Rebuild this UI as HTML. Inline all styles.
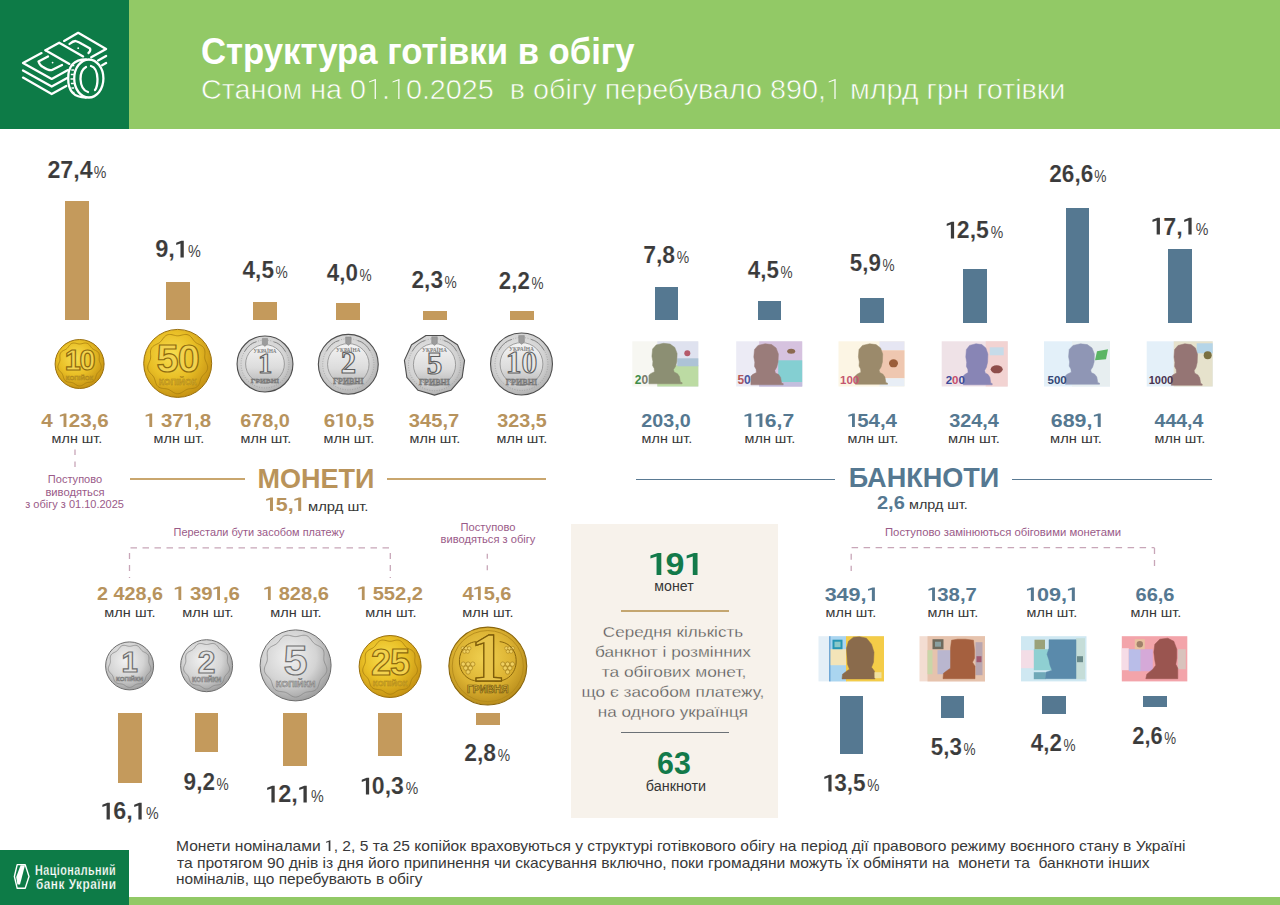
<!DOCTYPE html>
<html lang="uk">
<head>
<meta charset="utf-8">
<title>Структура готівки в обігу</title>
<style>
html,body{margin:0;padding:0;}
body{width:1280px;height:905px;position:relative;overflow:hidden;background:#ffffff;font-family:"Liberation Sans", sans-serif;}
.a{position:absolute;}
</style>
</head>
<body>
<div class="a bg" style="left:0.0px;top:0.0px;width:1280.0px;height:129.0px;background:#92c966"></div>
<div class="a bg" style="left:0.0px;top:0.0px;width:129.0px;height:129.0px;background:#0d7b47"></div>
<div class="a bg" style="left:129.0px;top:896.5px;width:1151.0px;height:8.5px;background:#92c966"></div>
<div class="a bg" style="left:0.0px;top:850.0px;width:129.0px;height:55.0px;background:#0d7b47"></div>
<div class="a bg" style="left:571.2px;top:524.0px;width:207.0px;height:294.0px;background:#f7f2eb"></div>
<div class="a shape" style="left:621.0px;top:610.0px;width:108.0px;height:1.6px;background:#c4a670"></div>
<div class="a shape" style="left:621.0px;top:731.8px;width:108.0px;height:1.6px;background:#6b7176"></div>
<div class="a shape" style="left:65.0px;top:201.0px;width:23.8px;height:119.3px;background:#c49a5c"></div>
<div class="a shape" style="left:166.0px;top:282.0px;width:23.8px;height:38.3px;background:#c49a5c"></div>
<div class="a shape" style="left:253.0px;top:302.0px;width:23.8px;height:18.3px;background:#c49a5c"></div>
<div class="a shape" style="left:336.3px;top:303.4px;width:23.8px;height:16.9px;background:#c49a5c"></div>
<div class="a shape" style="left:423.0px;top:311.3px;width:23.8px;height:9.0px;background:#c49a5c"></div>
<div class="a shape" style="left:510.0px;top:311.3px;width:23.8px;height:9.0px;background:#c49a5c"></div>
<div class="a shape" style="left:654.5px;top:287.0px;width:23.8px;height:33.0px;background:#557891"></div>
<div class="a shape" style="left:757.5px;top:301.3px;width:23.8px;height:18.7px;background:#557891"></div>
<div class="a shape" style="left:860.0px;top:297.5px;width:23.8px;height:25.5px;background:#557891"></div>
<div class="a shape" style="left:963.0px;top:269.2px;width:23.8px;height:53.8px;background:#557891"></div>
<div class="a shape" style="left:1065.5px;top:208.2px;width:23.8px;height:114.8px;background:#557891"></div>
<div class="a shape" style="left:1168.0px;top:249.2px;width:23.8px;height:73.8px;background:#557891"></div>
<div class="a shape" style="left:118.0px;top:712.8px;width:23.8px;height:70.2px;background:#c49a5c"></div>
<div class="a shape" style="left:194.5px;top:712.8px;width:23.8px;height:39.3px;background:#c49a5c"></div>
<div class="a shape" style="left:283.4px;top:712.8px;width:23.8px;height:53.0px;background:#c49a5c"></div>
<div class="a shape" style="left:378.2px;top:712.8px;width:23.8px;height:43.6px;background:#c49a5c"></div>
<div class="a shape" style="left:475.8px;top:712.8px;width:23.8px;height:11.8px;background:#c49a5c"></div>
<div class="a shape" style="left:839.5px;top:695.9px;width:23.8px;height:57.9px;background:#557891"></div>
<div class="a shape" style="left:940.5px;top:695.9px;width:23.8px;height:22.5px;background:#557891"></div>
<div class="a shape" style="left:1041.8px;top:695.9px;width:23.8px;height:18.2px;background:#557891"></div>
<div class="a shape" style="left:1142.8px;top:695.9px;width:23.8px;height:11.0px;background:#557891"></div>
<div class="a shape" style="left:129.5px;top:478.3px;width:115.5px;height:1.7px;background:#c9a66e"></div>
<div class="a shape" style="left:387.0px;top:478.3px;width:159.0px;height:1.7px;background:#c9a66e"></div>
<div class="a shape" style="left:635.5px;top:478.5px;width:199.5px;height:1.7px;background:#5a7a93"></div>
<div class="a shape" style="left:1012.0px;top:478.5px;width:199.5px;height:1.7px;background:#5a7a93"></div>
<svg class="a shape" style="left:0;top:0" width="1280" height="905" viewBox="0 0 1280 905">
<defs>
<radialGradient id="gG" cx="42%" cy="38%" r="62%">
 <stop offset="0" stop-color="#f8de50"/><stop offset="0.55" stop-color="#e9bf26"/><stop offset="1" stop-color="#c79414"/>
</radialGradient>
<radialGradient id="gO" cx="45%" cy="40%" r="62%">
 <stop offset="0" stop-color="#f0d050"/><stop offset="0.6" stop-color="#dcb232"/><stop offset="1" stop-color="#b68a1a"/>
</radialGradient>
<radialGradient id="sG" cx="42%" cy="38%" r="62%">
 <stop offset="0" stop-color="#f2f2f2"/><stop offset="0.6" stop-color="#d4d4d4"/><stop offset="1" stop-color="#a2a2a2"/>
</radialGradient>
<linearGradient id="sIn" x1="0" y1="0" x2="0" y2="1">
 <stop offset="0" stop-color="#f4f4f4"/><stop offset="0.6" stop-color="#dcdcdc"/><stop offset="1" stop-color="#b8b8b8"/>
</linearGradient>
<radialGradient id="sRing" cx="45%" cy="40%" r="60%">
 <stop offset="0" stop-color="#ececec"/><stop offset="0.7" stop-color="#d2d2d2"/><stop offset="1" stop-color="#b2b2b2"/>
</radialGradient>
</defs>
<path d="M64.1 40.9 L78.2 32.8 L106.1 48.9 L91.2 57.3" fill="none" stroke="#ffffff" stroke-width="2.3" stroke-linecap="round" stroke-linejoin="round"/>
<path d="M69.5 44 Q73 41 75.5 41 Q79 42 82 44 L90 48.5 Q91 51 88.5 53" fill="none" stroke="#ffffff" stroke-width="2.3" stroke-linecap="round" stroke-linejoin="round"/>
<circle cx="78.2" cy="48.2" r="0.9" fill="#fff"/>
<path d="M45.5 50.2 L59.2 42.7 L83.1 56.4" fill="none" stroke="#ffffff" stroke-width="2.3" stroke-linecap="round" stroke-linejoin="round"/>
<path d="M45.5 50.2 L69.4 63.9" fill="none" stroke="#ffffff" stroke-width="2.3" stroke-linecap="round" stroke-linejoin="round"/>
<path d="M41.5 53.1 L23 63 L51.7 78.9 L68 70.1" fill="none" stroke="#ffffff" stroke-width="2.3" stroke-linecap="round" stroke-linejoin="round"/>
<path d="M48 56.5 L38.5 61.5 Q40 66 43 67 Q49 71 52 70 L62 65" fill="none" stroke="#ffffff" stroke-width="2.3" stroke-linecap="round" stroke-linejoin="round"/>
<circle cx="52.6" cy="62.6" r="0.9" fill="#fff"/>
<path d="M23 70.5 L51.7 86.5 L67.2 78" fill="none" stroke="#ffffff" stroke-width="2.3" stroke-linecap="round" stroke-linejoin="round"/>
<path d="M23 77.6 L51.7 94 L66.3 86" fill="none" stroke="#ffffff" stroke-width="2.3" stroke-linecap="round" stroke-linejoin="round"/>
<path d="M98.1 60.4 L106.1 55.9" fill="none" stroke="#ffffff" stroke-width="2.3" stroke-linecap="round" stroke-linejoin="round"/>
<path d="M102.1 65.2 L106.1 63" fill="none" stroke="#ffffff" stroke-width="2.3" stroke-linecap="round" stroke-linejoin="round"/>
<ellipse cx="88.8" cy="78.5" rx="14.6" ry="19" fill="none" stroke="#ffffff" stroke-width="2.3" stroke-linecap="round" stroke-linejoin="round"/>
<path d="M86 59.5 Q68 59.5 68.2 78.5 Q68 97.5 86 97.5" fill="none" stroke="#ffffff" stroke-width="2.3" stroke-linecap="round" stroke-linejoin="round"/>
<line x1="71.8" y1="65.5" x2="74.3" y2="65.5" stroke="#fff" stroke-width="1.5"/>
<line x1="71.3" y1="70.0" x2="74.1" y2="70.0" stroke="#fff" stroke-width="1.5"/>
<line x1="70.8" y1="74.5" x2="73.8" y2="74.5" stroke="#fff" stroke-width="1.5"/>
<line x1="70.5" y1="79.0" x2="73.6" y2="79.0" stroke="#fff" stroke-width="1.5"/>
<line x1="70.9" y1="83.5" x2="73.9" y2="83.5" stroke="#fff" stroke-width="1.5"/>
<line x1="71.4" y1="88.0" x2="74.1" y2="88.0" stroke="#fff" stroke-width="1.5"/>
<line x1="71.9" y1="92.5" x2="74.4" y2="92.5" stroke="#fff" stroke-width="1.5"/>
<path d="M86 67 Q80.5 70 80.5 79 Q81 90 88 92 M91 66 Q97 67.5 97.5 79 Q97.5 87 95 90" fill="none" stroke="#ffffff" stroke-width="2.3" stroke-linecap="round" stroke-linejoin="round"/>
<polygon points="17.2,864.6 25.2,864.6 29,876.5 25.2,888.3 17.2,888.3 14.4,876.5" fill="none" stroke="#fff" stroke-width="1.4" stroke-linejoin="round"/><polygon points="20.6,865.3 25,865.3 20,884.5 17.4,884.5 16.2,877" fill="#fff"/>
<line x1="75.0" y1="449.4" x2="75.0" y2="468.0" stroke="#c8a6b8" stroke-width="1.3" stroke-dasharray="5.5 6.5"/>
<line x1="130.5" y1="547.8" x2="391.0" y2="547.8" stroke="#c8a6b8" stroke-width="1.3" stroke-dasharray="6.5 5.5"/>
<line x1="129.5" y1="553.0" x2="129.5" y2="578.0" stroke="#c8a6b8" stroke-width="1.3" stroke-dasharray="6 6"/>
<line x1="390.3" y1="553.0" x2="390.3" y2="578.0" stroke="#c8a6b8" stroke-width="1.3" stroke-dasharray="6 6"/>
<line x1="487.3" y1="553.7" x2="487.3" y2="572.0" stroke="#c8a6b8" stroke-width="1.3" stroke-dasharray="5 6.5"/>
<line x1="851.6" y1="547.7" x2="1154.5" y2="547.7" stroke="#c8a6b8" stroke-width="1.3" stroke-dasharray="6.5 5.5"/>
<line x1="851.2" y1="553.7" x2="851.2" y2="571.0" stroke="#c8a6b8" stroke-width="1.3" stroke-dasharray="6 6"/>
<line x1="1154.5" y1="548.0" x2="1154.5" y2="566.0" stroke="#c8a6b8" stroke-width="1.3" stroke-dasharray="6 6"/>
<circle cx="79.6" cy="364.0" r="24.50" fill="url(#gG)" stroke="#9a700e" stroke-width="1"/>
<polyline points="100.60,364.00 100.93,364.84 101.18,365.70 101.32,366.57 101.32,367.44 101.16,368.29 100.85,369.10 100.41,369.87 99.87,370.58 99.27,371.25 98.65,371.89 98.05,372.51 97.52,373.13 97.06,373.78 96.68,374.46 96.37,375.21 96.11,376.00 95.88,376.83 95.63,377.69 95.33,378.54 94.95,379.35 94.47,380.09 93.89,380.73 93.20,381.25 92.42,381.64 91.58,381.92 90.69,382.10 89.80,382.22 88.93,382.31 88.08,382.40 87.28,382.55 86.52,382.76 85.80,383.07 85.09,383.46 84.38,383.91 83.66,384.41 82.91,384.90 82.13,385.34 81.31,385.69 80.46,385.92 79.60,386.00 78.74,385.92 77.89,385.69 77.07,385.34 76.29,384.90 75.54,384.41 74.82,383.91 74.11,383.46 73.40,383.07 72.68,382.76 71.92,382.55 71.12,382.40 70.27,382.31 69.40,382.22 68.51,382.10 67.62,381.92 66.78,381.64 66.00,381.25 65.31,380.73 64.73,380.09 64.25,379.35 63.87,378.54 63.57,377.69 63.32,376.83 63.09,376.00 62.83,375.21 62.52,374.46 62.14,373.78 61.68,373.13 61.15,372.51 60.55,371.89 59.93,371.25 59.33,370.58 58.79,369.87 58.35,369.10 58.04,368.29 57.88,367.44 57.88,366.57 58.02,365.70 58.27,364.84 58.60,364.00 58.96,363.19 59.31,362.40 59.61,361.63 59.83,360.87 59.97,360.09 60.01,359.30 59.98,358.47 59.92,357.61 59.86,356.72 59.84,355.82 59.91,354.92 60.09,354.06 60.41,353.25 60.87,352.52 61.45,351.87 62.14,351.31 62.90,350.83 63.69,350.41 64.49,350.03 65.25,349.65 65.96,349.25 66.61,348.79 67.19,348.26 67.73,347.67 68.24,347.00 68.75,346.29 69.28,345.58 69.86,344.88 70.50,344.26 71.21,343.74 71.99,343.36 72.82,343.12 73.69,343.03 74.58,343.07 75.47,343.21 76.34,343.41 77.19,343.63 78.01,343.82 78.81,343.95 79.60,344.00 80.39,343.95 81.19,343.82 82.01,343.63 82.86,343.41 83.73,343.21 84.62,343.07 85.51,343.03 86.38,343.12 87.21,343.36 87.99,343.74 88.70,344.26 89.34,344.88 89.92,345.58 90.45,346.29 90.96,347.00 91.47,347.67 92.01,348.26 92.59,348.79 93.24,349.25 93.95,349.65 94.71,350.03 95.51,350.41 96.30,350.83 97.06,351.31 97.75,351.87 98.33,352.52 98.79,353.25 99.11,354.06 99.29,354.92 99.36,355.82 99.34,356.72 99.28,357.61 99.22,358.47 99.19,359.30 99.23,360.09 99.37,360.87 99.59,361.63 99.89,362.40 100.24,363.19 100.60,364.00" fill="none" stroke="#a97f10" stroke-width="1.00" opacity="0.80" stroke-linejoin="round"/>
<text x="79.6" y="370.3" font-family="Liberation Sans" font-weight="700" font-size="28.7" text-anchor="middle" fill="#f2d24e" stroke="#8e6a0e" stroke-width="1.2" letter-spacing="-1">10</text>
<text x="79.6" y="379.5" font-family="Liberation Sans" font-weight="700" font-size="6.0" text-anchor="middle" fill="#d9b02a" stroke="#a98119" stroke-width="0.4" textLength="27.5" lengthAdjust="spacingAndGlyphs">КОПІЙОК</text>
<circle cx="177.7" cy="363.4" r="34.00" fill="url(#gG)" stroke="#9a700e" stroke-width="1"/>
<polyline points="206.68,363.40 207.13,364.56 207.48,365.74 207.67,366.95 207.67,368.15 207.45,369.32 207.02,370.44 206.41,371.50 205.67,372.49 204.84,373.41 203.99,374.29 203.17,375.14 202.43,376.00 201.79,376.89 201.27,377.84 200.84,378.86 200.49,379.96 200.16,381.11 199.82,382.29 199.40,383.46 198.88,384.58 198.22,385.60 197.41,386.48 196.46,387.20 195.39,387.75 194.23,388.13 193.01,388.38 191.78,388.54 190.57,388.66 189.41,388.80 188.30,389.00 187.25,389.30 186.25,389.71 185.27,390.25 184.30,390.88 183.30,391.56 182.27,392.24 181.19,392.85 180.06,393.34 178.89,393.65 177.70,393.76 176.51,393.65 175.34,393.34 174.21,392.85 173.13,392.24 172.10,391.56 171.10,390.88 170.13,390.25 169.15,389.71 168.15,389.30 167.10,389.00 165.99,388.80 164.83,388.66 163.62,388.54 162.39,388.38 161.17,388.13 160.01,387.75 158.94,387.20 157.99,386.48 157.18,385.60 156.52,384.58 156.00,383.46 155.58,382.29 155.24,381.11 154.91,379.96 154.56,378.86 154.13,377.84 153.61,376.89 152.97,376.00 152.23,375.14 151.41,374.29 150.56,373.41 149.73,372.49 148.99,371.50 148.38,370.44 147.95,369.32 147.73,368.15 147.73,366.95 147.92,365.74 148.27,364.56 148.72,363.40 149.22,362.28 149.70,361.20 150.12,360.14 150.42,359.08 150.60,358.01 150.66,356.91 150.63,355.77 150.54,354.58 150.46,353.35 150.44,352.11 150.53,350.88 150.78,349.69 151.22,348.57 151.85,347.56 152.65,346.66 153.60,345.89 154.65,345.23 155.75,344.65 156.84,344.12 157.90,343.60 158.88,343.04 159.77,342.41 160.58,341.68 161.32,340.86 162.03,339.94 162.73,338.97 163.46,337.97 164.26,337.02 165.14,336.16 166.12,335.45 167.19,334.92 168.34,334.59 169.54,334.46 170.77,334.52 171.99,334.71 173.20,334.99 174.37,335.29 175.51,335.56 176.61,335.74 177.70,335.80 178.79,335.74 179.89,335.56 181.03,335.29 182.20,334.99 183.41,334.71 184.63,334.52 185.86,334.46 187.06,334.59 188.21,334.92 189.28,335.45 190.26,336.16 191.14,337.02 191.94,337.97 192.67,338.97 193.37,339.94 194.08,340.86 194.82,341.68 195.63,342.41 196.52,343.04 197.50,343.60 198.56,344.12 199.65,344.65 200.75,345.23 201.80,345.89 202.75,346.66 203.55,347.56 204.18,348.57 204.62,349.69 204.87,350.88 204.96,352.11 204.94,353.35 204.86,354.58 204.77,355.77 204.74,356.91 204.80,358.01 204.98,359.08 205.28,360.14 205.70,361.20 206.18,362.28 206.68,363.40" fill="none" stroke="#a97f10" stroke-width="1.00" opacity="0.80" stroke-linejoin="round"/>
<text x="177.7" y="372.1" font-family="Liberation Sans" font-weight="700" font-size="39.7" text-anchor="middle" fill="#f2d24e" stroke="#8e6a0e" stroke-width="1.2" letter-spacing="-1">50</text>
<text x="177.7" y="384.8" font-family="Liberation Sans" font-weight="700" font-size="8.3" text-anchor="middle" fill="#d9b02a" stroke="#a98119" stroke-width="0.4" textLength="38.0" lengthAdjust="spacingAndGlyphs">КОПІЙОК</text>
<circle cx="265.0" cy="364.0" r="27.95" fill="url(#sRing)" stroke="#4e4e4e" stroke-width="1.1"/>
<circle cx="265.0" cy="364.0" r="23.94" fill="none" stroke="#8a8a8a" stroke-width="1" stroke-dasharray="1 1.5" opacity="0.55"/>
<circle cx="265.0" cy="364.0" r="19.38" fill="url(#sIn)" stroke="#8a8a8a" stroke-width="0.8"/>
<path d="M262.4 338.4 h5.1 v5.7 l-2.6 2.3 l-2.6 -2.3 z" fill="#9c9c9c" stroke="#777" stroke-width="0.4"/>
<path d="M256.4 341.8 q-7.1 1.4 -12.0 10.0" fill="none" stroke="#8a8a8a" stroke-width="1"/>
<path d="M273.6 341.8 q7.1 1.4 12.0 10.0" fill="none" stroke="#8a8a8a" stroke-width="1"/>
<text x="265.0" y="352.6" font-family="Liberation Serif" font-weight="700" font-size="5.4" text-anchor="middle" fill="#7e7e7e" textLength="22.8" lengthAdjust="spacingAndGlyphs">УКРАЇНА</text>
<text x="265.0" y="372.6" font-family="Liberation Serif" font-weight="700" font-size="28.5" text-anchor="middle" fill="#e6e6e6" stroke="#5e5e5e" stroke-width="1.1">1</text>
<text x="265.0" y="382.8" font-family="Liberation Serif" font-weight="700" font-size="6.8" text-anchor="middle" fill="#8e8e8e" stroke="#666" stroke-width="0.3" textLength="28.5" lengthAdjust="spacingAndGlyphs">ГРИВНІ</text>
<circle cx="348.3" cy="364.3" r="29.95" fill="url(#sRing)" stroke="#4e4e4e" stroke-width="1.1"/>
<circle cx="348.3" cy="364.3" r="25.62" fill="none" stroke="#8a8a8a" stroke-width="1" stroke-dasharray="1 1.5" opacity="0.55"/>
<circle cx="348.3" cy="364.3" r="20.74" fill="url(#sIn)" stroke="#8a8a8a" stroke-width="0.8"/>
<path d="M345.6 336.9 h5.5 v6.1 l-2.7 2.4 l-2.7 -2.4 z" fill="#9c9c9c" stroke="#777" stroke-width="0.4"/>
<path d="M339.2 340.5 q-7.6 1.5 -12.8 10.7" fill="none" stroke="#8a8a8a" stroke-width="1"/>
<path d="M357.4 340.5 q7.6 1.5 12.8 10.7" fill="none" stroke="#8a8a8a" stroke-width="1"/>
<text x="348.3" y="352.1" font-family="Liberation Serif" font-weight="700" font-size="5.8" text-anchor="middle" fill="#7e7e7e" textLength="24.4" lengthAdjust="spacingAndGlyphs">УКРАЇНА</text>
<text x="348.3" y="373.4" font-family="Liberation Serif" font-weight="700" font-size="30.5" text-anchor="middle" fill="#e6e6e6" stroke="#5e5e5e" stroke-width="1.1">2</text>
<text x="348.3" y="384.4" font-family="Liberation Serif" font-weight="700" font-size="7.3" text-anchor="middle" fill="#8e8e8e" stroke="#666" stroke-width="0.3" textLength="30.5" lengthAdjust="spacingAndGlyphs">ГРИВНІ</text>
<polygon points="443.06,335.53 457.47,344.79 464.59,360.37 462.15,377.33 450.94,390.27 434.50,395.10 418.06,390.27 406.85,377.33 404.41,360.37 411.53,344.79 425.94,335.53" fill="url(#sRing)" stroke="#4e4e4e" stroke-width="1.1" stroke-linejoin="round"/>
<circle cx="434.5" cy="364.7" r="26.04" fill="none" stroke="#8a8a8a" stroke-width="1" stroke-dasharray="1 1.5" opacity="0.55"/>
<circle cx="434.5" cy="364.7" r="21.08" fill="url(#sIn)" stroke="#8a8a8a" stroke-width="0.8"/>
<path d="M431.7 336.8 h5.6 v6.2 l-2.8 2.5 l-2.8 -2.5 z" fill="#9c9c9c" stroke="#777" stroke-width="0.4"/>
<path d="M425.2 340.5 q-7.8 1.6 -13.0 10.8" fill="none" stroke="#8a8a8a" stroke-width="1"/>
<path d="M443.8 340.5 q7.8 1.6 13.0 10.8" fill="none" stroke="#8a8a8a" stroke-width="1"/>
<text x="434.5" y="352.3" font-family="Liberation Serif" font-weight="700" font-size="5.9" text-anchor="middle" fill="#7e7e7e" textLength="24.8" lengthAdjust="spacingAndGlyphs">УКРАЇНА</text>
<text x="434.5" y="374.0" font-family="Liberation Serif" font-weight="700" font-size="31.0" text-anchor="middle" fill="#e6e6e6" stroke="#5e5e5e" stroke-width="1.1">5</text>
<text x="434.5" y="385.2" font-family="Liberation Serif" font-weight="700" font-size="7.4" text-anchor="middle" fill="#8e8e8e" stroke="#666" stroke-width="0.3" textLength="31.0" lengthAdjust="spacingAndGlyphs">ГРИВНІ</text>
<circle cx="521.5" cy="364.0" r="30.95" fill="url(#sRing)" stroke="#4e4e4e" stroke-width="1.1"/>
<circle cx="521.5" cy="364.0" r="26.46" fill="none" stroke="#8a8a8a" stroke-width="1" stroke-dasharray="1 1.5" opacity="0.55"/>
<circle cx="521.5" cy="364.0" r="21.42" fill="url(#sIn)" stroke="#8a8a8a" stroke-width="0.8"/>
<path d="M518.7 335.6 h5.7 v6.3 l-2.8 2.5 l-2.8 -2.5 z" fill="#9c9c9c" stroke="#777" stroke-width="0.4"/>
<path d="M512.0 339.4 q-7.9 1.6 -13.2 11.0" fill="none" stroke="#8a8a8a" stroke-width="1"/>
<path d="M531.0 339.4 q7.9 1.6 13.2 11.0" fill="none" stroke="#8a8a8a" stroke-width="1"/>
<text x="521.5" y="351.4" font-family="Liberation Serif" font-weight="700" font-size="6.0" text-anchor="middle" fill="#7e7e7e" textLength="25.2" lengthAdjust="spacingAndGlyphs">УКРАЇНА</text>
<text x="521.5" y="373.4" font-family="Liberation Serif" font-weight="700" font-size="31.5" text-anchor="middle" fill="#e6e6e6" stroke="#5e5e5e" stroke-width="1.1">10</text>
<text x="521.5" y="384.8" font-family="Liberation Serif" font-weight="700" font-size="7.6" text-anchor="middle" fill="#8e8e8e" stroke="#666" stroke-width="0.3" textLength="31.5" lengthAdjust="spacingAndGlyphs">ГРИВНІ</text>
<circle cx="129.6" cy="665.9" r="24.00" fill="url(#sG)" stroke="#6e6e6e" stroke-width="1"/>
<polyline points="150.18,665.90 150.50,666.72 150.75,667.56 150.89,668.42 150.88,669.27 150.73,670.10 150.42,670.90 149.99,671.65 149.46,672.35 148.87,673.01 148.27,673.63 147.69,674.24 147.16,674.85 146.71,675.48 146.33,676.16 146.03,676.88 145.78,677.66 145.55,678.48 145.31,679.32 145.01,680.15 144.64,680.94 144.17,681.67 143.60,682.29 142.92,682.80 142.16,683.19 141.34,683.46 140.47,683.64 139.60,683.76 138.74,683.84 137.91,683.94 137.13,684.08 136.38,684.29 135.67,684.59 134.98,684.97 134.28,685.41 133.58,685.90 132.84,686.38 132.08,686.81 131.27,687.16 130.44,687.38 129.60,687.46 128.76,687.38 127.93,687.16 127.12,686.81 126.36,686.38 125.62,685.90 124.92,685.41 124.22,684.97 123.53,684.59 122.82,684.29 122.07,684.08 121.29,683.94 120.46,683.84 119.60,683.76 118.73,683.64 117.86,683.46 117.04,683.19 116.28,682.80 115.60,682.29 115.03,681.67 114.56,680.94 114.19,680.15 113.89,679.32 113.65,678.48 113.42,677.66 113.17,676.88 112.87,676.16 112.49,675.48 112.04,674.85 111.51,674.24 110.93,673.63 110.33,673.01 109.74,672.35 109.21,671.65 108.78,670.90 108.47,670.10 108.32,669.27 108.31,668.42 108.45,667.56 108.70,666.72 109.02,665.90 109.37,665.11 109.72,664.34 110.01,663.58 110.23,662.83 110.36,662.07 110.40,661.29 110.38,660.48 110.32,659.63 110.26,658.76 110.24,657.88 110.31,657.01 110.49,656.16 110.79,655.37 111.24,654.65 111.81,654.01 112.48,653.46 113.23,652.99 114.01,652.58 114.79,652.21 115.54,651.84 116.23,651.44 116.87,650.99 117.44,650.48 117.97,649.89 118.47,649.24 118.97,648.55 119.49,647.84 120.05,647.17 120.68,646.56 121.38,646.05 122.14,645.67 122.95,645.44 123.80,645.35 124.68,645.39 125.55,645.53 126.40,645.72 127.24,645.94 128.04,646.13 128.83,646.25 129.60,646.30 130.37,646.25 131.16,646.13 131.96,645.94 132.80,645.72 133.65,645.53 134.52,645.39 135.40,645.35 136.25,645.44 137.06,645.67 137.82,646.05 138.52,646.56 139.15,647.17 139.71,647.84 140.23,648.55 140.73,649.24 141.23,649.89 141.76,650.48 142.33,650.99 142.97,651.44 143.66,651.84 144.41,652.21 145.19,652.58 145.97,652.99 146.72,653.46 147.39,654.01 147.96,654.65 148.41,655.37 148.71,656.16 148.89,657.01 148.96,657.88 148.94,658.76 148.88,659.63 148.82,660.48 148.80,661.29 148.84,662.07 148.97,662.83 149.19,663.58 149.48,664.34 149.83,665.11 150.18,665.90" fill="none" stroke="#8a8a8a" stroke-width="1.00" opacity="0.80" stroke-linejoin="round"/>
<text x="129.6" y="672.4" font-family="Liberation Sans" font-weight="700" font-size="29.4" text-anchor="middle" fill="#e2e2e2" stroke="#707070" stroke-width="1.2">1</text>
<text x="129.6" y="680.6" font-family="Liberation Sans" font-weight="700" font-size="5.9" text-anchor="middle" fill="#c4c4c4" stroke="#777" stroke-width="0.5" textLength="27.0" lengthAdjust="spacingAndGlyphs">КОПІЙКИ</text>
<circle cx="206.6" cy="665.7" r="26.00" fill="url(#sG)" stroke="#6e6e6e" stroke-width="1"/>
<polyline points="228.86,665.70 229.21,666.59 229.48,667.50 229.62,668.43 229.62,669.35 229.45,670.25 229.12,671.11 228.66,671.92 228.08,672.68 227.45,673.39 226.79,674.06 226.16,674.72 225.59,675.38 225.10,676.06 224.70,676.79 224.38,677.58 224.10,678.42 223.86,679.30 223.59,680.21 223.27,681.11 222.87,681.97 222.36,682.75 221.74,683.43 221.01,683.98 220.19,684.40 219.29,684.70 218.36,684.89 217.42,685.01 216.49,685.11 215.59,685.21 214.74,685.36 213.94,685.59 213.17,685.91 212.42,686.32 211.67,686.81 210.90,687.33 210.11,687.85 209.28,688.32 208.41,688.69 207.51,688.94 206.60,689.02 205.69,688.94 204.79,688.69 203.92,688.32 203.09,687.85 202.30,687.33 201.53,686.81 200.78,686.32 200.03,685.91 199.26,685.59 198.46,685.36 197.61,685.21 196.71,685.11 195.78,685.01 194.84,684.89 193.91,684.70 193.01,684.40 192.19,683.98 191.46,683.43 190.84,682.75 190.33,681.97 189.93,681.11 189.61,680.21 189.34,679.30 189.10,678.42 188.82,677.58 188.50,676.79 188.10,676.06 187.61,675.38 187.04,674.72 186.41,674.06 185.75,673.39 185.12,672.68 184.54,671.92 184.08,671.11 183.75,670.25 183.58,669.35 183.58,668.43 183.72,667.50 183.99,666.59 184.34,665.70 184.72,664.84 185.09,664.01 185.41,663.19 185.65,662.38 185.79,661.56 185.83,660.71 185.81,659.84 185.74,658.92 185.68,657.98 185.66,657.03 185.73,656.08 185.92,655.17 186.26,654.31 186.74,653.53 187.36,652.84 188.09,652.25 188.89,651.74 189.74,651.30 190.58,650.89 191.39,650.49 192.14,650.06 192.83,649.58 193.45,649.02 194.02,648.39 194.56,647.68 195.10,646.93 195.66,646.17 196.28,645.44 196.95,644.78 197.71,644.23 198.53,643.82 199.41,643.57 200.33,643.47 201.27,643.52 202.22,643.66 203.14,643.88 204.04,644.11 204.92,644.31 205.77,644.45 206.60,644.50 207.43,644.45 208.28,644.31 209.16,644.11 210.06,643.88 210.98,643.66 211.93,643.52 212.87,643.47 213.79,643.57 214.67,643.82 215.49,644.23 216.25,644.78 216.92,645.44 217.54,646.17 218.10,646.93 218.64,647.68 219.18,648.39 219.75,649.02 220.37,649.58 221.06,650.06 221.81,650.49 222.62,650.89 223.46,651.30 224.31,651.74 225.11,652.25 225.84,652.84 226.46,653.53 226.94,654.31 227.28,655.17 227.47,656.08 227.54,657.03 227.52,657.98 227.46,658.92 227.39,659.84 227.37,660.71 227.41,661.56 227.55,662.38 227.79,663.19 228.11,664.01 228.48,664.84 228.86,665.70" fill="none" stroke="#8a8a8a" stroke-width="1.00" opacity="0.80" stroke-linejoin="round"/>
<text x="206.6" y="672.7" font-family="Liberation Sans" font-weight="700" font-size="31.8" text-anchor="middle" fill="#e2e2e2" stroke="#707070" stroke-width="1.2">2</text>
<text x="206.6" y="681.6" font-family="Liberation Sans" font-weight="700" font-size="6.4" text-anchor="middle" fill="#c4c4c4" stroke="#777" stroke-width="0.5" textLength="29.2" lengthAdjust="spacingAndGlyphs">КОПІЙКИ</text>
<circle cx="295.6" cy="665.4" r="35.50" fill="url(#sG)" stroke="#6e6e6e" stroke-width="1"/>
<polyline points="325.84,665.40 326.31,666.61 326.68,667.85 326.88,669.10 326.87,670.35 326.64,671.58 326.20,672.75 325.56,673.85 324.78,674.88 323.92,675.85 323.03,676.76 322.17,677.65 321.40,678.55 320.74,679.48 320.19,680.47 319.75,681.54 319.38,682.68 319.04,683.88 318.68,685.11 318.25,686.34 317.70,687.50 317.01,688.57 316.17,689.49 315.18,690.24 314.06,690.81 312.84,691.21 311.58,691.47 310.29,691.64 309.03,691.76 307.82,691.90 306.66,692.11 305.57,692.42 304.52,692.86 303.50,693.42 302.48,694.07 301.44,694.78 300.37,695.49 299.24,696.13 298.06,696.64 296.84,696.97 295.60,697.08 294.36,696.97 293.14,696.64 291.96,696.13 290.83,695.49 289.76,694.78 288.72,694.07 287.70,693.42 286.68,692.86 285.63,692.42 284.54,692.11 283.38,691.90 282.17,691.76 280.91,691.64 279.62,691.47 278.36,691.21 277.14,690.81 276.02,690.24 275.03,689.49 274.19,688.57 273.50,687.50 272.95,686.34 272.52,685.11 272.16,683.88 271.82,682.68 271.45,681.54 271.01,680.47 270.46,679.48 269.80,678.55 269.03,677.65 268.17,676.76 267.28,675.85 266.42,674.88 265.64,673.85 265.00,672.75 264.56,671.58 264.33,670.35 264.32,669.10 264.52,667.85 264.89,666.61 265.36,665.40 265.88,664.23 266.39,663.10 266.82,661.99 267.14,660.89 267.33,659.78 267.39,658.63 267.35,657.43 267.26,656.19 267.18,654.91 267.15,653.62 267.25,652.33 267.51,651.09 267.97,649.93 268.62,648.87 269.46,647.93 270.45,647.13 271.55,646.44 272.69,645.83 273.84,645.28 274.94,644.74 275.96,644.15 276.89,643.50 277.74,642.74 278.51,641.88 279.24,640.92 279.98,639.90 280.74,638.87 281.57,637.87 282.50,636.98 283.52,636.23 284.64,635.68 285.83,635.34 287.08,635.21 288.36,635.26 289.65,635.47 290.90,635.75 292.13,636.07 293.31,636.34 294.47,636.53 295.60,636.60 296.73,636.53 297.89,636.34 299.07,636.07 300.30,635.75 301.55,635.47 302.84,635.26 304.12,635.21 305.37,635.34 306.56,635.68 307.68,636.23 308.70,636.98 309.63,637.87 310.46,638.87 311.22,639.90 311.96,640.92 312.69,641.88 313.46,642.74 314.31,643.50 315.24,644.15 316.26,644.74 317.36,645.28 318.51,645.83 319.65,646.44 320.75,647.13 321.74,647.93 322.58,648.87 323.23,649.93 323.69,651.09 323.95,652.33 324.05,653.62 324.02,654.91 323.94,656.19 323.85,657.43 323.81,658.63 323.87,659.78 324.06,660.89 324.38,661.99 324.81,663.10 325.32,664.23 325.84,665.40" fill="none" stroke="#8a8a8a" stroke-width="1.00" opacity="0.80" stroke-linejoin="round"/>
<text x="295.6" y="674.9" font-family="Liberation Sans" font-weight="700" font-size="43.2" text-anchor="middle" fill="#e2e2e2" stroke="#707070" stroke-width="1.2">5</text>
<text x="295.6" y="687.0" font-family="Liberation Sans" font-weight="700" font-size="8.6" text-anchor="middle" fill="#c4c4c4" stroke="#777" stroke-width="0.5" textLength="39.6" lengthAdjust="spacingAndGlyphs">КОПІЙКИ</text>
<circle cx="390.1" cy="666.5" r="31.00" fill="url(#gG)" stroke="#9a700e" stroke-width="1"/>
<polyline points="416.56,666.50 416.98,667.56 417.29,668.64 417.47,669.74 417.46,670.83 417.26,671.90 416.87,672.93 416.32,673.89 415.64,674.80 414.88,675.64 414.10,676.44 413.35,677.22 412.68,678.00 412.09,678.82 411.62,679.69 411.23,680.62 410.91,681.62 410.61,682.67 410.30,683.75 409.92,684.82 409.44,685.84 408.84,686.77 408.10,687.58 407.23,688.23 406.25,688.73 405.19,689.08 404.08,689.31 402.96,689.46 401.85,689.57 400.79,689.69 399.78,689.87 398.82,690.14 397.91,690.53 397.01,691.01 396.12,691.59 395.21,692.21 394.27,692.83 393.28,693.39 392.25,693.83 391.19,694.12 390.10,694.22 389.01,694.12 387.95,693.83 386.92,693.39 385.93,692.83 384.99,692.21 384.08,691.59 383.19,691.01 382.29,690.53 381.38,690.14 380.42,689.87 379.41,689.69 378.35,689.57 377.24,689.46 376.12,689.31 375.01,689.08 373.95,688.73 372.97,688.23 372.10,687.58 371.36,686.77 370.76,685.84 370.28,684.82 369.90,683.75 369.59,682.67 369.29,681.62 368.97,680.62 368.58,679.69 368.11,678.82 367.52,678.00 366.85,677.22 366.10,676.44 365.32,675.64 364.56,674.80 363.88,673.89 363.33,672.93 362.94,671.90 362.74,670.83 362.73,669.74 362.91,668.64 363.22,667.56 363.64,666.50 364.10,665.48 364.54,664.49 364.92,663.52 365.19,662.56 365.36,661.58 365.42,660.57 365.38,659.53 365.31,658.44 365.23,657.32 365.21,656.19 365.29,655.06 365.52,653.98 365.92,652.96 366.49,652.03 367.23,651.22 368.09,650.51 369.05,649.91 370.05,649.38 371.06,648.90 372.02,648.42 372.92,647.91 373.73,647.33 374.47,646.67 375.15,645.92 375.79,645.08 376.43,644.19 377.10,643.28 377.83,642.41 378.63,641.63 379.53,640.98 380.51,640.49 381.55,640.20 382.65,640.08 383.77,640.13 384.89,640.31 385.99,640.56 387.06,640.83 388.10,641.08 389.11,641.24 390.10,641.30 391.09,641.24 392.10,641.08 393.14,640.83 394.21,640.56 395.31,640.31 396.43,640.13 397.55,640.08 398.65,640.20 399.69,640.49 400.67,640.98 401.57,641.63 402.37,642.41 403.10,643.28 403.77,644.19 404.41,645.08 405.05,645.92 405.73,646.67 406.47,647.33 407.28,647.91 408.18,648.42 409.14,648.90 410.15,649.38 411.15,649.91 412.11,650.51 412.97,651.22 413.71,652.03 414.28,652.96 414.68,653.98 414.91,655.06 414.99,656.19 414.97,657.32 414.89,658.44 414.82,659.53 414.78,660.57 414.84,661.58 415.01,662.56 415.28,663.52 415.66,664.49 416.10,665.48 416.56,666.50" fill="none" stroke="#a97f10" stroke-width="1.00" opacity="0.80" stroke-linejoin="round"/>
<text x="390.1" y="674.5" font-family="Liberation Sans" font-weight="700" font-size="36.2" text-anchor="middle" fill="#f2d24e" stroke="#8e6a0e" stroke-width="1.2" letter-spacing="-1">25</text>
<text x="390.1" y="686.0" font-family="Liberation Sans" font-weight="700" font-size="7.6" text-anchor="middle" fill="#d9b02a" stroke="#a98119" stroke-width="0.4" textLength="34.7" lengthAdjust="spacingAndGlyphs">КОПІЙОК</text>
<circle cx="487.8" cy="666.1" r="38.95" fill="url(#gO)" stroke="#8a660c" stroke-width="1.1"/>
<circle cx="487.8" cy="666.1" r="35.55" fill="none" stroke="#b38a1c" stroke-width="0.9"/>
<text x="487.8" y="681.1" font-family="Liberation Serif" font-weight="700" font-size="69.1" text-anchor="middle" fill="#e8c44a" stroke="#7e5c0a" stroke-width="1.1">1</text>
<circle cx="463.3" cy="664.1" r="2.17" fill="#f0d060" stroke="#8a660c" stroke-width="0.5"/>
<circle cx="468.1" cy="664.1" r="2.17" fill="#f0d060" stroke="#8a660c" stroke-width="0.5"/>
<circle cx="472.8" cy="664.1" r="2.17" fill="#f0d060" stroke="#8a660c" stroke-width="0.5"/>
<circle cx="465.7" cy="668.1" r="2.17" fill="#f0d060" stroke="#8a660c" stroke-width="0.5"/>
<circle cx="470.4" cy="668.1" r="2.17" fill="#f0d060" stroke="#8a660c" stroke-width="0.5"/>
<circle cx="468.1" cy="672.0" r="2.17" fill="#f0d060" stroke="#8a660c" stroke-width="0.5"/>
<circle cx="462.9" cy="648.3" r="1.78" fill="#f0d060" stroke="#8a660c" stroke-width="0.4"/>
<circle cx="466.1" cy="648.3" r="1.78" fill="#f0d060" stroke="#8a660c" stroke-width="0.4"/>
<circle cx="469.2" cy="648.3" r="1.78" fill="#f0d060" stroke="#8a660c" stroke-width="0.4"/>
<circle cx="464.5" cy="651.5" r="1.78" fill="#f0d060" stroke="#8a660c" stroke-width="0.4"/>
<circle cx="467.7" cy="651.5" r="1.78" fill="#f0d060" stroke="#8a660c" stroke-width="0.4"/>
<path d="M480.7 681.1 C454.2 682.7 452.2 644.4 475.9 641.6" fill="none" stroke="#8a660c" stroke-width="1"/>
<circle cx="502.8" cy="664.1" r="2.17" fill="#f0d060" stroke="#8a660c" stroke-width="0.5"/>
<circle cx="507.6" cy="664.1" r="2.17" fill="#f0d060" stroke="#8a660c" stroke-width="0.5"/>
<circle cx="512.3" cy="664.1" r="2.17" fill="#f0d060" stroke="#8a660c" stroke-width="0.5"/>
<circle cx="505.2" cy="668.1" r="2.17" fill="#f0d060" stroke="#8a660c" stroke-width="0.5"/>
<circle cx="509.9" cy="668.1" r="2.17" fill="#f0d060" stroke="#8a660c" stroke-width="0.5"/>
<circle cx="507.6" cy="672.0" r="2.17" fill="#f0d060" stroke="#8a660c" stroke-width="0.5"/>
<circle cx="506.4" cy="648.3" r="1.78" fill="#f0d060" stroke="#8a660c" stroke-width="0.4"/>
<circle cx="509.5" cy="648.3" r="1.78" fill="#f0d060" stroke="#8a660c" stroke-width="0.4"/>
<circle cx="512.7" cy="648.3" r="1.78" fill="#f0d060" stroke="#8a660c" stroke-width="0.4"/>
<circle cx="507.9" cy="651.5" r="1.78" fill="#f0d060" stroke="#8a660c" stroke-width="0.4"/>
<circle cx="511.1" cy="651.5" r="1.78" fill="#f0d060" stroke="#8a660c" stroke-width="0.4"/>
<path d="M494.9 681.1 C521.4 682.7 523.4 644.4 499.7 641.6" fill="none" stroke="#8a660c" stroke-width="1"/>
<text x="487.8" y="681.1" font-family="Liberation Serif" font-weight="700" font-size="69.1" text-anchor="middle" fill="#e8c44a" stroke="#7e5c0a" stroke-width="1.3">1</text>
<text x="487.8" y="693.0" font-family="Liberation Sans" font-weight="700" font-size="11.1" text-anchor="middle" fill="#dcb640" stroke="#6e520a" stroke-width="0.7" textLength="41.5" lengthAdjust="spacingAndGlyphs">ГРИВНЯ</text>
<rect x="632.3" y="341.3" width="66.0" height="45.2" fill="#f7f7f2" opacity="1.00"/>
<rect x="657.3" y="341.3" width="41.0" height="45.2" fill="#dfe2ef" opacity="1.00"/>
<rect x="657.3" y="365.3" width="41.0" height="21.2" fill="#bcdba3" opacity="1.00"/>
<rect x="677.3" y="358.3" width="21.0" height="8.0" fill="#adc3d6" opacity="1.00"/>
<circle cx="687.3" cy="353.3" r="3" fill="#b55a6a"/>
<polygon points="648.9,383.8 648.9,375.3 650.6,373.7 654.5,371.7 654.2,368.4 652.6,365.6 652.9,361.5 651.9,356.3 652.6,349.0 656.2,344.9 663.5,343.3 670.1,344.1 674.8,347.4 677.1,353.4 676.8,361.5 675.5,366.4 673.5,369.6 674.1,372.1 677.5,373.7 679.4,376.5 680.4,382.2 682.1,382.6 682.1,383.8" fill="#8c8f73" stroke="#8c8f73" stroke-width="0.5" stroke-linejoin="round"/>
<text x="634.8" y="383.8" font-family="Liberation Sans" font-weight="700" font-size="12.0" fill="#3f8d49">2</text>
<text x="641.5" y="383.8" font-family="Liberation Sans" font-weight="700" font-size="12.0" fill="#7a7a6a">0</text>
<rect x="736.2" y="341.3" width="66.0" height="45.2" fill="#ecebf5" opacity="1.00"/>
<rect x="759.2" y="341.3" width="43.0" height="45.2" fill="#d6c2df" opacity="1.00"/>
<rect x="778.2" y="360.3" width="24.0" height="22.0" fill="#84cfd2" opacity="1.00"/>
<rect x="759.2" y="382.3" width="43.0" height="4.2" fill="#c3bede" opacity="1.00"/>
<ellipse cx="791.2" cy="351.3" rx="4" ry="2.5" fill="#8b6a50"/>
<polygon points="750.9,384.8 750.9,376.2 752.5,374.6 756.4,372.5 756.1,369.2 754.5,366.4 754.8,362.2 753.8,356.9 754.5,349.5 758.0,345.4 765.1,343.8 771.6,344.6 776.1,347.9 778.4,354.1 778.0,362.2 776.7,367.2 774.8,370.4 775.4,372.9 778.7,374.6 780.6,377.4 781.6,383.2 783.2,383.6 783.2,384.8" fill="#9a7c7a" stroke="#9a7c7a" stroke-width="0.5" stroke-linejoin="round"/>
<text x="737.4" y="383.8" font-family="Liberation Sans" font-weight="700" font-size="12.0" fill="#b55858">5</text>
<text x="744.1" y="383.8" font-family="Liberation Sans" font-weight="700" font-size="12.0" fill="#4b569c">0</text>
<rect x="838.5" y="341.3" width="66.0" height="45.2" fill="#fcf5e4" opacity="1.00"/>
<rect x="879.5" y="341.3" width="25.0" height="9.0" fill="#e6e6f3" opacity="1.00"/>
<rect x="879.5" y="350.3" width="25.0" height="28.0" fill="#efc7b0" opacity="1.00"/>
<rect x="879.5" y="378.3" width="25.0" height="8.0" fill="#e8eef6" opacity="1.00"/>
<ellipse cx="893.5" cy="363.3" rx="4.5" ry="4" fill="#9a5e3a"/>
<polygon points="855.5,384.3 855.5,375.8 857.1,374.2 860.9,372.2 860.6,368.9 859.0,366.1 859.3,362.0 858.4,356.8 859.0,349.5 862.5,345.4 869.6,343.8 876.0,344.6 880.5,347.9 882.7,353.9 882.4,362.0 881.1,366.9 879.2,370.1 879.8,372.6 883.0,374.2 884.9,377.0 885.9,382.7 887.5,383.1 887.5,384.3" fill="#9b8a6b" stroke="#9b8a6b" stroke-width="0.5" stroke-linejoin="round"/>
<text x="840.0" y="383.8" font-family="Liberation Sans" font-weight="700" font-size="11.5" fill="#c45670">100</text>
<rect x="941.7" y="341.3" width="66.0" height="45.2" fill="#efe2e7" opacity="1.00"/>
<rect x="985.7" y="341.3" width="22.0" height="45.2" fill="#f2d3d2" opacity="1.00"/>
<rect x="989.7" y="347.3" width="14.0" height="8.0" fill="#c6dbe9" opacity="1.00"/>
<ellipse cx="996.7" cy="369.3" rx="6" ry="4" fill="#8e4d4a"/>
<polygon points="963.2,384.8 963.2,376.2 964.7,374.6 968.1,372.5 967.8,369.2 966.4,366.4 966.7,362.2 965.8,356.9 966.4,349.5 969.6,345.4 976.0,343.8 981.8,344.6 985.8,347.9 987.9,354.1 987.6,362.2 986.4,367.2 984.7,370.4 985.2,372.9 988.1,374.6 989.9,377.4 990.8,383.2 992.2,383.6 992.2,384.8" fill="#8885b5" stroke="#8885b5" stroke-width="0.5" stroke-linejoin="round"/>
<text x="945.7" y="383.8" font-family="Liberation Sans" font-weight="700" font-size="11.5" fill="#3e4b9a">2</text>
<text x="952.1" y="383.8" font-family="Liberation Sans" font-weight="700" font-size="11.5" fill="#c44d6b">0</text>
<text x="958.5" y="383.8" font-family="Liberation Sans" font-weight="700" font-size="11.5" fill="#3e4b9a">0</text>
<rect x="1044.0" y="341.3" width="66.0" height="45.2" fill="#e3f0f9" opacity="1.00"/>
<rect x="1072.0" y="341.3" width="38.0" height="45.2" fill="#e7eef0" opacity="1.00"/>
<polygon points="1097.0,351.3 1108.0,349.3 1106.0,359.3 1095.0,360.3" fill="#5bb565"/>
<polygon points="1065.5,384.3 1065.5,375.8 1067.2,374.2 1071.3,372.2 1070.9,368.9 1069.2,366.1 1069.6,362.0 1068.6,356.8 1069.2,349.5 1073.0,345.4 1080.5,343.8 1087.3,344.6 1092.0,347.9 1094.4,353.9 1094.1,362.0 1092.7,366.9 1090.7,370.1 1091.3,372.6 1094.7,374.2 1096.8,377.0 1097.8,382.7 1099.5,383.1 1099.5,384.3" fill="#8f96b5" stroke="#8f96b5" stroke-width="0.5" stroke-linejoin="round"/>
<text x="1047.5" y="383.8" font-family="Liberation Sans" font-weight="700" font-size="11.5" fill="#334775">500</text>
<rect x="1146.7" y="341.3" width="66.0" height="45.2" fill="#e4f0f9" opacity="1.00"/>
<rect x="1173.7" y="341.3" width="39.0" height="45.2" fill="#e6e2cc" opacity="1.00"/>
<rect x="1196.7" y="343.3" width="16.0" height="10.0" fill="#b5d5e8" opacity="1.00"/>
<circle cx="1207.7" cy="355.3" r="4" fill="#7a7040"/>
<polygon points="1171.2,385.3 1171.2,376.6 1172.8,374.9 1176.5,372.9 1176.2,369.5 1174.6,366.6 1174.9,362.5 1174.0,357.1 1174.6,349.6 1178.0,345.5 1184.8,343.8 1191.0,344.6 1195.4,347.9 1197.5,354.2 1197.2,362.5 1196.0,367.5 1194.1,370.8 1194.8,373.3 1197.9,374.9 1199.7,377.8 1200.7,383.6 1202.2,384.1 1202.2,385.3" fill="#957574" stroke="#957574" stroke-width="0.5" stroke-linejoin="round"/>
<text x="1148.7" y="383.8" font-family="Liberation Sans" font-weight="700" font-size="11.0" fill="#4a3350">1000</text>
<rect x="818.5" y="636.2" width="65.5" height="45.2" fill="#e4eff7" opacity="1.00"/>
<rect x="829.5" y="636.2" width="17.0" height="45.2" fill="#aad5f0" opacity="1.00"/>
<rect x="829.5" y="649.2" width="17.0" height="16.0" fill="#f3e4b8" opacity="1.00"/>
<rect x="846.0" y="636.2" width="38.0" height="45.2" fill="#f4cc48" opacity="1.00"/>
<rect x="829.2" y="636.2" width="1.2" height="45.2" fill="#5a9ad0" opacity="1.00"/>
<rect x="832.5" y="639.7" width="10.0" height="9.5" fill="#2596b4" opacity="1.00"/>
<rect x="834.5" y="641.7" width="6.0" height="5.5" fill="#8ac8c8" opacity="1.00"/>
<polygon points="842.0,678.9 842.5,674.2 846.5,671.2 849.5,669.2 847.5,664.2 847.0,656.2 846.5,648.2 848.5,641.2 853.5,637.2 859.5,636.7 866.5,638.2 871.5,644.2 874.0,652.2 873.5,662.2 871.5,667.2 874.5,671.2 875.0,678.9" fill="#8a6b4c" stroke="#8a6b4c" stroke-width="0.5" stroke-linejoin="round"/>
<rect x="874.5" y="672.2" width="7.0" height="6.0" fill="#f0e0a0" opacity="1.00"/>
<rect x="919.5" y="636.2" width="65.5" height="45.2" fill="#f3ddd2" opacity="1.00"/>
<rect x="927.5" y="636.2" width="57.5" height="45.2" fill="#e6c3ad" opacity="1.00"/>
<rect x="932.5" y="639.2" width="11.0" height="10.0" fill="#6f6a5c" opacity="1.00"/>
<rect x="935.0" y="641.7" width="6.0" height="5.0" fill="#8aa0a0" opacity="1.00"/>
<rect x="927.5" y="650.2" width="5.0" height="24.0" fill="#c9d6a8" opacity="1.00"/>
<rect x="937.5" y="650.2" width="14.0" height="24.0" fill="#b9b6cf" opacity="1.00"/>
<rect x="975.5" y="642.2" width="7.0" height="33.0" fill="#b8a6b0" opacity="1.00"/>
<rect x="976.5" y="656.2" width="5.0" height="6.0" fill="#a05a70" opacity="1.00"/>
<polygon points="943.0,678.7 943.5,673.2 947.5,670.2 950.5,668.2 950.5,658.2 950.5,648.2 951.5,640.2 957.5,639.2 965.5,639.2 973.5,640.2 974.5,650.2 974.5,658.2 972.5,662.2 975.0,666.2 975.0,678.7" fill="#a5603f" stroke="#a5603f" stroke-width="0.5" stroke-linejoin="round"/>
<rect x="1021.0" y="636.2" width="65.5" height="45.2" fill="#cfe8f2" opacity="1.00"/>
<rect x="1021.0" y="650.2" width="13.0" height="18.0" fill="#f3dde6" opacity="1.00"/>
<rect x="1033.8" y="649.2" width="20.0" height="21.0" fill="#8fd0d2" opacity="1.00"/>
<rect x="1034.5" y="639.7" width="10.5" height="9.5" fill="#9aa27a" opacity="1.00"/>
<rect x="1076.0" y="638.2" width="9.0" height="41.0" fill="#c5ddd8" opacity="1.00"/>
<rect x="1077.0" y="656.2" width="6.0" height="6.0" fill="#6a8a8a" opacity="1.00"/>
<rect x="1033.8" y="672.2" width="12.0" height="7.0" fill="#6fa8b8" opacity="1.00"/>
<polygon points="1045.5,678.7 1046.0,672.2 1052.0,670.2 1050.0,665.2 1049.0,660.2 1047.0,654.2 1049.0,648.2 1049.0,639.7 1076.0,639.7 1076.0,678.7" fill="#5a8aab" stroke="#5a8aab" stroke-width="0.5" stroke-linejoin="round"/>
<rect x="1121.8" y="636.2" width="65.5" height="45.2" fill="#f3a4aa" opacity="1.00"/>
<rect x="1121.8" y="648.2" width="7.0" height="22.0" fill="#f6dce6" opacity="1.00"/>
<rect x="1128.8" y="649.2" width="12.0" height="22.0" fill="#b9bde8" opacity="1.00"/>
<rect x="1140.8" y="649.2" width="12.0" height="22.0" fill="#d5a9d8" opacity="1.00"/>
<rect x="1134.8" y="639.2" width="10.0" height="10.0" fill="#e8c2a0" opacity="1.00"/>
<circle cx="1139.8" cy="644.2" r="3.2" fill="#a0806a"/>
<rect x="1177.8" y="649.2" width="8.0" height="20.0" fill="#d9c3bd" opacity="1.00"/>
<polygon points="1145.8,678.7 1146.8,674.2 1152.8,669.2 1155.8,665.2 1154.8,660.2 1153.8,652.2 1154.8,644.2 1159.8,639.2 1167.8,638.2 1173.8,641.2 1176.8,649.2 1176.8,658.2 1175.8,664.2 1177.8,668.2 1177.8,678.7" fill="#9a5550" stroke="#9a5550" stroke-width="0.5" stroke-linejoin="round"/>
</svg>
<div style="position:absolute;left:201.00px;top:33.01px;font-size:37px;line-height:37px;font-weight:700;color:#ffffff;white-space:nowrap;transform:scaleX(0.9371);transform-origin:0 0;"><span id="t0">Структура готівки в обігу</span></div>
<div style="position:absolute;left:201.00px;top:70.50px;font-size:28px;line-height:28px;font-weight:400;color:#ffffff;white-space:nowrap;transform:scaleX(1.0262);transform-origin:0 0;-webkit-text-stroke:0.6px #92c966;"><span id="t1">Станом на 0<svg viewBox="0 0 556 1000" style="width:0.556em;height:1em;vertical-align:baseline;overflow:visible"><path d="M336 1000 V290 H326 L96 376 V414 L294 342 V1000 Z" fill="currentColor"/></svg>.<svg viewBox="0 0 556 1000" style="width:0.556em;height:1em;vertical-align:baseline;overflow:visible"><path d="M336 1000 V290 H326 L96 376 V414 L294 342 V1000 Z" fill="currentColor"/></svg>0.2025&nbsp; в обігу перебувало 890,<svg viewBox="0 0 556 1000" style="width:0.556em;height:1em;vertical-align:baseline;overflow:visible"><path d="M336 1000 V290 H326 L96 376 V414 L294 342 V1000 Z" fill="currentColor"/></svg> млрд грн готівки</span></div>
<div style="position:absolute;left:-123.00px;width:400px;text-align:center;top:158.60px;font-size:23.5px;line-height:23.5px;font-weight:700;color:#3b3b3b;white-space:nowrap;transform:scaleX(0.9914);transform-origin:50% 0;-webkit-text-stroke:0.12px #ffffff;"><span id="t2">27,4<span style="display:inline-block;width:12.5px;margin-left:1.5px;font-size:17px;font-weight:400;color:#444444;-webkit-text-stroke:0;transform:scaleX(0.84);transform-origin:0 0">%</span></span></div>
<div style="position:absolute;left:-125.30px;width:400px;text-align:center;top:408.01px;font-size:19px;line-height:19px;font-weight:700;color:#b7935d;white-space:nowrap;transform:scaleX(1.0820);transform-origin:50% 0;"><span id="t3">4 <svg viewBox="0 0 500 1000" style="width:0.5em;height:1em;vertical-align:baseline;overflow:visible"><path d="M372 1000 V292 H268 L52 372 V466 L232 404 V1000 Z" fill="currentColor"/></svg>23,6</span></div>
<div style="position:absolute;left:-123.10px;width:400px;text-align:center;top:432.12px;font-size:13.5px;line-height:13.5px;font-weight:400;color:#363636;white-space:nowrap;transform:scaleX(1.0652);transform-origin:50% 0;"><span id="t4">млн шт.</span></div>
<div style="position:absolute;left:-22.50px;width:400px;text-align:center;top:233.80px;font-size:23.5px;line-height:23.5px;font-weight:700;color:#3b3b3b;white-space:nowrap;transform:scaleX(1.0068);transform-origin:50% 0;-webkit-text-stroke:0.12px #ffffff;"><span id="t5">9,<svg viewBox="0 0 500 1000" style="width:0.5em;height:1em;vertical-align:baseline;overflow:visible"><path d="M372 1000 V292 H268 L52 372 V466 L232 404 V1000 Z" fill="currentColor"/></svg><span style="display:inline-block;width:12.5px;margin-left:1.5px;font-size:17px;font-weight:400;color:#444444;-webkit-text-stroke:0;transform:scaleX(0.84);transform-origin:0 0">%</span></span></div>
<div style="position:absolute;left:-22.50px;width:400px;text-align:center;top:408.01px;font-size:19px;line-height:19px;font-weight:700;color:#b7935d;white-space:nowrap;transform:scaleX(1.0783);transform-origin:50% 0;"><span id="t6"><svg viewBox="0 0 500 1000" style="width:0.5em;height:1em;vertical-align:baseline;overflow:visible"><path d="M372 1000 V292 H268 L52 372 V466 L232 404 V1000 Z" fill="currentColor"/></svg> 37<svg viewBox="0 0 500 1000" style="width:0.5em;height:1em;vertical-align:baseline;overflow:visible"><path d="M372 1000 V292 H268 L52 372 V466 L232 404 V1000 Z" fill="currentColor"/></svg>,8</span></div>
<div style="position:absolute;left:-21.50px;width:400px;text-align:center;top:432.12px;font-size:13.5px;line-height:13.5px;font-weight:400;color:#363636;white-space:nowrap;transform:scaleX(1.0652);transform-origin:50% 0;"><span id="t7">млн шт.</span></div>
<div style="position:absolute;left:65.00px;width:400px;text-align:center;top:259.21px;font-size:23.5px;line-height:23.5px;font-weight:700;color:#3b3b3b;white-space:nowrap;transform:scaleX(0.9630);transform-origin:50% 0;-webkit-text-stroke:0.12px #ffffff;"><span id="t8">4,5<span style="display:inline-block;width:12.5px;margin-left:1.5px;font-size:17px;font-weight:400;color:#444444;-webkit-text-stroke:0;transform:scaleX(0.84);transform-origin:0 0">%</span></span></div>
<div style="position:absolute;left:65.00px;width:400px;text-align:center;top:411.01px;font-size:19px;line-height:19px;font-weight:700;color:#b7935d;white-space:nowrap;transform:scaleX(1.0435);transform-origin:50% 0;"><span id="t9">678,0</span></div>
<div style="position:absolute;left:65.50px;width:400px;text-align:center;top:432.12px;font-size:13.5px;line-height:13.5px;font-weight:400;color:#363636;white-space:nowrap;transform:scaleX(1.0652);transform-origin:50% 0;"><span id="t10">млн шт.</span></div>
<div style="position:absolute;left:148.60px;width:400px;text-align:center;top:261.91px;font-size:23.5px;line-height:23.5px;font-weight:700;color:#3b3b3b;white-space:nowrap;transform:scaleX(0.9543);transform-origin:50% 0;-webkit-text-stroke:0.12px #ffffff;"><span id="t11">4,0<span style="display:inline-block;width:12.5px;margin-left:1.5px;font-size:17px;font-weight:400;color:#444444;-webkit-text-stroke:0;transform:scaleX(0.84);transform-origin:0 0">%</span></span></div>
<div style="position:absolute;left:148.80px;width:400px;text-align:center;top:408.01px;font-size:19px;line-height:19px;font-weight:700;color:#b7935d;white-space:nowrap;transform:scaleX(1.0822);transform-origin:50% 0;"><span id="t12">6<svg viewBox="0 0 500 1000" style="width:0.5em;height:1em;vertical-align:baseline;overflow:visible"><path d="M372 1000 V292 H268 L52 372 V466 L232 404 V1000 Z" fill="currentColor"/></svg>0,5</span></div>
<div style="position:absolute;left:148.70px;width:400px;text-align:center;top:432.12px;font-size:13.5px;line-height:13.5px;font-weight:400;color:#363636;white-space:nowrap;transform:scaleX(1.0652);transform-origin:50% 0;"><span id="t13">млн шт.</span></div>
<div style="position:absolute;left:234.00px;width:400px;text-align:center;top:268.80px;font-size:23.5px;line-height:23.5px;font-weight:700;color:#3b3b3b;white-space:nowrap;transform:scaleX(0.9630);transform-origin:50% 0;-webkit-text-stroke:0.12px #ffffff;"><span id="t14">2,3<span style="display:inline-block;width:12.5px;margin-left:1.5px;font-size:17px;font-weight:400;color:#444444;-webkit-text-stroke:0;transform:scaleX(0.84);transform-origin:0 0">%</span></span></div>
<div style="position:absolute;left:234.00px;width:400px;text-align:center;top:411.01px;font-size:19px;line-height:19px;font-weight:700;color:#b7935d;white-space:nowrap;transform:scaleX(1.0587);transform-origin:50% 0;"><span id="t15">345,7</span></div>
<div style="position:absolute;left:234.90px;width:400px;text-align:center;top:432.12px;font-size:13.5px;line-height:13.5px;font-weight:400;color:#363636;white-space:nowrap;transform:scaleX(1.0652);transform-origin:50% 0;"><span id="t16">млн шт.</span></div>
<div style="position:absolute;left:321.00px;width:400px;text-align:center;top:269.71px;font-size:23.5px;line-height:23.5px;font-weight:700;color:#3b3b3b;white-space:nowrap;transform:scaleX(0.9478);transform-origin:50% 0;-webkit-text-stroke:0.12px #ffffff;"><span id="t17">2,2<span style="display:inline-block;width:12.5px;margin-left:1.5px;font-size:17px;font-weight:400;color:#444444;-webkit-text-stroke:0;transform:scaleX(0.84);transform-origin:0 0">%</span></span></div>
<div style="position:absolute;left:321.80px;width:400px;text-align:center;top:411.01px;font-size:19px;line-height:19px;font-weight:700;color:#b7935d;white-space:nowrap;transform:scaleX(1.0383);transform-origin:50% 0;"><span id="t18">323,5</span></div>
<div style="position:absolute;left:321.70px;width:400px;text-align:center;top:432.12px;font-size:13.5px;line-height:13.5px;font-weight:400;color:#363636;white-space:nowrap;transform:scaleX(1.0652);transform-origin:50% 0;"><span id="t19">млн шт.</span></div>
<div style="position:absolute;left:466.30px;width:400px;text-align:center;top:244.21px;font-size:23.5px;line-height:23.5px;font-weight:700;color:#3b3b3b;white-space:nowrap;transform:scaleX(0.9778);transform-origin:50% 0;-webkit-text-stroke:0.12px #ffffff;"><span id="t20">7,8<span style="display:inline-block;width:12.5px;margin-left:1.5px;font-size:17px;font-weight:400;color:#444444;-webkit-text-stroke:0;transform:scaleX(0.84);transform-origin:0 0">%</span></span></div>
<div style="position:absolute;left:466.20px;width:400px;text-align:center;top:410.80px;font-size:19px;line-height:19px;font-weight:700;color:#557891;white-space:nowrap;transform:scaleX(1.0362);transform-origin:50% 0;"><span id="t21">203,0</span></div>
<div style="position:absolute;left:466.70px;width:400px;text-align:center;top:432.40px;font-size:13.5px;line-height:13.5px;font-weight:400;color:#363636;white-space:nowrap;transform:scaleX(1.0652);transform-origin:50% 0;"><span id="t22">млн шт.</span></div>
<div style="position:absolute;left:569.80px;width:400px;text-align:center;top:259.00px;font-size:23.5px;line-height:23.5px;font-weight:700;color:#3b3b3b;white-space:nowrap;transform:scaleX(0.9522);transform-origin:50% 0;-webkit-text-stroke:0.12px #ffffff;"><span id="t23">4,5<span style="display:inline-block;width:12.5px;margin-left:1.5px;font-size:17px;font-weight:400;color:#444444;-webkit-text-stroke:0;transform:scaleX(0.84);transform-origin:0 0">%</span></span></div>
<div style="position:absolute;left:569.40px;width:400px;text-align:center;top:407.80px;font-size:19px;line-height:19px;font-weight:700;color:#557891;white-space:nowrap;transform:scaleX(1.1114);transform-origin:50% 0;"><span id="t24"><svg viewBox="0 0 500 1000" style="width:0.5em;height:1em;vertical-align:baseline;overflow:visible"><path d="M372 1000 V292 H268 L52 372 V466 L232 404 V1000 Z" fill="currentColor"/></svg><svg viewBox="0 0 500 1000" style="width:0.5em;height:1em;vertical-align:baseline;overflow:visible"><path d="M372 1000 V292 H268 L52 372 V466 L232 404 V1000 Z" fill="currentColor"/></svg>6,7</span></div>
<div style="position:absolute;left:569.90px;width:400px;text-align:center;top:432.40px;font-size:13.5px;line-height:13.5px;font-weight:400;color:#363636;white-space:nowrap;transform:scaleX(1.0652);transform-origin:50% 0;"><span id="t25">млн шт.</span></div>
<div style="position:absolute;left:672.00px;width:400px;text-align:center;top:252.25px;font-size:23.5px;line-height:23.5px;font-weight:700;color:#3b3b3b;white-space:nowrap;transform:scaleX(0.9522);transform-origin:50% 0;-webkit-text-stroke:0.12px #ffffff;"><span id="t26">5,9<span style="display:inline-block;width:12.5px;margin-left:1.5px;font-size:17px;font-weight:400;color:#444444;-webkit-text-stroke:0;transform:scaleX(0.84);transform-origin:0 0">%</span></span></div>
<div style="position:absolute;left:671.50px;width:400px;text-align:center;top:407.80px;font-size:19px;line-height:19px;font-weight:700;color:#557891;white-space:nowrap;transform:scaleX(1.0756);transform-origin:50% 0;"><span id="t27"><svg viewBox="0 0 500 1000" style="width:0.5em;height:1em;vertical-align:baseline;overflow:visible"><path d="M372 1000 V292 H268 L52 372 V466 L232 404 V1000 Z" fill="currentColor"/></svg>54,4</span></div>
<div style="position:absolute;left:672.50px;width:400px;text-align:center;top:432.40px;font-size:13.5px;line-height:13.5px;font-weight:400;color:#363636;white-space:nowrap;transform:scaleX(1.0652);transform-origin:50% 0;"><span id="t28">млн шт.</span></div>
<div style="position:absolute;left:774.00px;width:400px;text-align:center;top:214.50px;font-size:23.5px;line-height:23.5px;font-weight:700;color:#3b3b3b;white-space:nowrap;transform:scaleX(0.9825);transform-origin:50% 0;-webkit-text-stroke:0.12px #ffffff;"><span id="t29"><svg viewBox="0 0 500 1000" style="width:0.5em;height:1em;vertical-align:baseline;overflow:visible"><path d="M372 1000 V292 H268 L52 372 V466 L232 404 V1000 Z" fill="currentColor"/></svg>2,5<span style="display:inline-block;width:12.5px;margin-left:1.5px;font-size:17px;font-weight:400;color:#444444;-webkit-text-stroke:0;transform:scaleX(0.84);transform-origin:0 0">%</span></span></div>
<div style="position:absolute;left:773.50px;width:400px;text-align:center;top:410.80px;font-size:19px;line-height:19px;font-weight:700;color:#557891;white-space:nowrap;transform:scaleX(1.0447);transform-origin:50% 0;"><span id="t30">324,4</span></div>
<div style="position:absolute;left:774.00px;width:400px;text-align:center;top:432.40px;font-size:13.5px;line-height:13.5px;font-weight:400;color:#363636;white-space:nowrap;transform:scaleX(1.0889);transform-origin:50% 0;"><span id="t31">млн шт.</span></div>
<div style="position:absolute;left:877.80px;width:400px;text-align:center;top:162.75px;font-size:23.5px;line-height:23.5px;font-weight:700;color:#3b3b3b;white-space:nowrap;transform:scaleX(0.9619);transform-origin:50% 0;-webkit-text-stroke:0.12px #ffffff;"><span id="t32">26,6<span style="display:inline-block;width:12.5px;margin-left:1.5px;font-size:17px;font-weight:400;color:#444444;-webkit-text-stroke:0;transform:scaleX(0.84);transform-origin:0 0">%</span></span></div>
<div style="position:absolute;left:877.00px;width:400px;text-align:center;top:407.80px;font-size:19px;line-height:19px;font-weight:700;color:#557891;white-space:nowrap;transform:scaleX(1.1256);transform-origin:50% 0;"><span id="t33">689,<svg viewBox="0 0 500 1000" style="width:0.5em;height:1em;vertical-align:baseline;overflow:visible"><path d="M372 1000 V292 H268 L52 372 V466 L232 404 V1000 Z" fill="currentColor"/></svg></span></div>
<div style="position:absolute;left:876.00px;width:400px;text-align:center;top:432.40px;font-size:13.5px;line-height:13.5px;font-weight:400;color:#363636;white-space:nowrap;transform:scaleX(1.0889);transform-origin:50% 0;"><span id="t34">млн шт.</span></div>
<div style="position:absolute;left:980.00px;width:400px;text-align:center;top:211.00px;font-size:23.5px;line-height:23.5px;font-weight:700;color:#3b3b3b;white-space:nowrap;transform:scaleX(0.9911);transform-origin:50% 0;-webkit-text-stroke:0.12px #ffffff;"><span id="t35"><svg viewBox="0 0 500 1000" style="width:0.5em;height:1em;vertical-align:baseline;overflow:visible"><path d="M372 1000 V292 H268 L52 372 V466 L232 404 V1000 Z" fill="currentColor"/></svg>7,<svg viewBox="0 0 500 1000" style="width:0.5em;height:1em;vertical-align:baseline;overflow:visible"><path d="M372 1000 V292 H268 L52 372 V466 L232 404 V1000 Z" fill="currentColor"/></svg><span style="display:inline-block;width:12.5px;margin-left:1.5px;font-size:17px;font-weight:400;color:#444444;-webkit-text-stroke:0;transform:scaleX(0.84);transform-origin:0 0">%</span></span></div>
<div style="position:absolute;left:979.10px;width:400px;text-align:center;top:410.80px;font-size:19px;line-height:19px;font-weight:700;color:#557891;white-space:nowrap;transform:scaleX(1.0250);transform-origin:50% 0;"><span id="t36">444,4</span></div>
<div style="position:absolute;left:980.10px;width:400px;text-align:center;top:432.40px;font-size:13.5px;line-height:13.5px;font-weight:400;color:#363636;white-space:nowrap;transform:scaleX(1.0652);transform-origin:50% 0;"><span id="t37">млн шт.</span></div>
<div style="position:absolute;left:116.00px;width:400px;text-align:center;top:464.50px;font-size:27.5px;line-height:27.5px;font-weight:700;color:#b9935a;white-space:nowrap;transform:scaleX(0.9828);transform-origin:50% 0;"><span id="t38">МОНЕТИ</span></div>
<div style="position:absolute;left:265.00px;top:491.51px;font-size:19px;line-height:19px;font-weight:700;color:#b7935d;white-space:nowrap;transform:scaleX(1.1290);transform-origin:0 0;"><span id="t39"><svg viewBox="0 0 500 1000" style="width:0.5em;height:1em;vertical-align:baseline;overflow:visible"><path d="M372 1000 V292 H268 L52 372 V466 L232 404 V1000 Z" fill="currentColor"/></svg>5,<svg viewBox="0 0 500 1000" style="width:0.5em;height:1em;vertical-align:baseline;overflow:visible"><path d="M372 1000 V292 H268 L52 372 V466 L232 404 V1000 Z" fill="currentColor"/></svg></span></div>
<div style="position:absolute;left:308.00px;top:499.51px;font-size:13.5px;line-height:13.5px;font-weight:400;color:#363636;white-space:nowrap;transform:scaleX(1.0943);transform-origin:0 0;"><span id="t40">млрд шт.</span></div>
<div style="position:absolute;left:723.80px;width:400px;text-align:center;top:464.00px;font-size:27.5px;line-height:27.5px;font-weight:700;color:#557891;white-space:nowrap;transform:scaleX(0.9847);transform-origin:50% 0;"><span id="t41">БАНКНОТИ</span></div>
<div style="position:absolute;left:877.40px;top:493.10px;font-size:19px;line-height:19px;font-weight:700;color:#557891;white-space:nowrap;transform:scaleX(1.0520);transform-origin:0 0;"><span id="t42">2,6</span></div>
<div style="position:absolute;left:909.40px;top:498.12px;font-size:13.5px;line-height:13.5px;font-weight:400;color:#363636;white-space:nowrap;transform:scaleX(1.0648);transform-origin:0 0;"><span id="t43">млрд шт.</span></div>
<div style="position:absolute;left:-125.40px;width:400px;text-align:center;top:474.00px;font-size:11px;line-height:11px;font-weight:400;color:#9a5a88;white-space:nowrap;transform:scaleX(1.0037);transform-origin:50% 0;"><span id="t44">Поступово</span></div>
<div style="position:absolute;left:-125.40px;width:400px;text-align:center;top:486.50px;font-size:11px;line-height:11px;font-weight:400;color:#9a5a88;white-space:nowrap;transform:scaleX(1.0175);transform-origin:50% 0;"><span id="t45">виводяться</span></div>
<div style="position:absolute;left:-125.40px;width:400px;text-align:center;top:499.30px;font-size:11px;line-height:11px;font-weight:400;color:#9a5a88;white-space:nowrap;transform:scaleX(1.0000);transform-origin:50% 0;"><span id="t46">з обігу з 01.10.2025</span></div>
<div style="position:absolute;left:58.70px;width:400px;text-align:center;top:527.21px;font-size:11px;line-height:11px;font-weight:400;color:#9a5a88;white-space:nowrap;transform:scaleX(0.9919);transform-origin:50% 0;"><span id="t47">Перестали бути засобом платежу</span></div>
<div style="position:absolute;left:287.80px;width:400px;text-align:center;top:521.80px;font-size:11px;line-height:11px;font-weight:400;color:#9a5a88;white-space:nowrap;transform:scaleX(1.0151);transform-origin:50% 0;"><span id="t48">Поступово</span></div>
<div style="position:absolute;left:287.60px;width:400px;text-align:center;top:534.41px;font-size:11px;line-height:11px;font-weight:400;color:#9a5a88;white-space:nowrap;transform:scaleX(1.0118);transform-origin:50% 0;"><span id="t49">виводяться з обігу</span></div>
<div style="position:absolute;left:802.50px;width:400px;text-align:center;top:526.61px;font-size:11px;line-height:11px;font-weight:400;color:#9a5a88;white-space:nowrap;transform:scaleX(1.0276);transform-origin:50% 0;"><span id="t50">Поступово замінюються обіговими монетами</span></div>
<div style="position:absolute;left:-70.40px;width:400px;text-align:center;top:795.60px;font-size:23.5px;line-height:23.5px;font-weight:700;color:#3b3b3b;white-space:nowrap;transform:scaleX(0.9946);transform-origin:50% 0;-webkit-text-stroke:0.12px #ffffff;"><span id="t51"><svg viewBox="0 0 500 1000" style="width:0.5em;height:1em;vertical-align:baseline;overflow:visible"><path d="M372 1000 V292 H268 L52 372 V466 L232 404 V1000 Z" fill="currentColor"/></svg>6,<svg viewBox="0 0 500 1000" style="width:0.5em;height:1em;vertical-align:baseline;overflow:visible"><path d="M372 1000 V292 H268 L52 372 V466 L232 404 V1000 Z" fill="currentColor"/></svg><span style="display:inline-block;width:12.5px;margin-left:1.5px;font-size:17px;font-weight:400;color:#444444;-webkit-text-stroke:0;transform:scaleX(0.84);transform-origin:0 0">%</span></span></div>
<div style="position:absolute;left:-70.40px;width:400px;text-align:center;top:584.30px;font-size:19px;line-height:19px;font-weight:700;color:#b7935d;white-space:nowrap;transform:scaleX(1.0381);transform-origin:50% 0;"><span id="t52">2 428,6</span></div>
<div style="position:absolute;left:-69.90px;width:400px;text-align:center;top:605.90px;font-size:13.5px;line-height:13.5px;font-weight:400;color:#363636;white-space:nowrap;transform:scaleX(1.0783);transform-origin:50% 0;"><span id="t53">млн шт.</span></div>
<div style="position:absolute;left:6.00px;width:400px;text-align:center;top:770.50px;font-size:23.5px;line-height:23.5px;font-weight:700;color:#3b3b3b;white-space:nowrap;transform:scaleX(0.9600);transform-origin:50% 0;-webkit-text-stroke:0.12px #ffffff;"><span id="t54">9,2<span style="display:inline-block;width:12.5px;margin-left:1.5px;font-size:17px;font-weight:400;color:#444444;-webkit-text-stroke:0;transform:scaleX(0.84);transform-origin:0 0">%</span></span></div>
<div style="position:absolute;left:7.00px;width:400px;text-align:center;top:581.30px;font-size:19px;line-height:19px;font-weight:700;color:#b7935d;white-space:nowrap;transform:scaleX(1.0750);transform-origin:50% 0;"><span id="t55"><svg viewBox="0 0 500 1000" style="width:0.5em;height:1em;vertical-align:baseline;overflow:visible"><path d="M372 1000 V292 H268 L52 372 V466 L232 404 V1000 Z" fill="currentColor"/></svg> 39<svg viewBox="0 0 500 1000" style="width:0.5em;height:1em;vertical-align:baseline;overflow:visible"><path d="M372 1000 V292 H268 L52 372 V466 L232 404 V1000 Z" fill="currentColor"/></svg>,6</span></div>
<div style="position:absolute;left:7.50px;width:400px;text-align:center;top:605.90px;font-size:13.5px;line-height:13.5px;font-weight:400;color:#363636;white-space:nowrap;transform:scaleX(1.0783);transform-origin:50% 0;"><span id="t56">млн шт.</span></div>
<div style="position:absolute;left:95.00px;width:400px;text-align:center;top:778.50px;font-size:23.5px;line-height:23.5px;font-weight:700;color:#3b3b3b;white-space:nowrap;transform:scaleX(1.0018);transform-origin:50% 0;-webkit-text-stroke:0.12px #ffffff;"><span id="t57"><svg viewBox="0 0 500 1000" style="width:0.5em;height:1em;vertical-align:baseline;overflow:visible"><path d="M372 1000 V292 H268 L52 372 V466 L232 404 V1000 Z" fill="currentColor"/></svg>2,<svg viewBox="0 0 500 1000" style="width:0.5em;height:1em;vertical-align:baseline;overflow:visible"><path d="M372 1000 V292 H268 L52 372 V466 L232 404 V1000 Z" fill="currentColor"/></svg><span style="display:inline-block;width:12.5px;margin-left:1.5px;font-size:17px;font-weight:400;color:#444444;-webkit-text-stroke:0;transform:scaleX(0.84);transform-origin:0 0">%</span></span></div>
<div style="position:absolute;left:95.60px;width:400px;text-align:center;top:581.30px;font-size:19px;line-height:19px;font-weight:700;color:#b7935d;white-space:nowrap;transform:scaleX(1.0557);transform-origin:50% 0;"><span id="t58"><svg viewBox="0 0 500 1000" style="width:0.5em;height:1em;vertical-align:baseline;overflow:visible"><path d="M372 1000 V292 H268 L52 372 V466 L232 404 V1000 Z" fill="currentColor"/></svg> 828,6</span></div>
<div style="position:absolute;left:96.10px;width:400px;text-align:center;top:605.90px;font-size:13.5px;line-height:13.5px;font-weight:400;color:#363636;white-space:nowrap;transform:scaleX(1.0783);transform-origin:50% 0;"><span id="t59">млн шт.</span></div>
<div style="position:absolute;left:189.00px;width:400px;text-align:center;top:770.71px;font-size:23.5px;line-height:23.5px;font-weight:700;color:#3b3b3b;white-space:nowrap;transform:scaleX(0.9807);transform-origin:50% 0;-webkit-text-stroke:0.12px #ffffff;"><span id="t60"><svg viewBox="0 0 500 1000" style="width:0.5em;height:1em;vertical-align:baseline;overflow:visible"><path d="M372 1000 V292 H268 L52 372 V466 L232 404 V1000 Z" fill="currentColor"/></svg>0,3<span style="display:inline-block;width:12.5px;margin-left:1.5px;font-size:17px;font-weight:400;color:#444444;-webkit-text-stroke:0;transform:scaleX(0.84);transform-origin:0 0">%</span></span></div>
<div style="position:absolute;left:190.40px;width:400px;text-align:center;top:581.30px;font-size:19px;line-height:19px;font-weight:700;color:#b7935d;white-space:nowrap;transform:scaleX(1.0590);transform-origin:50% 0;"><span id="t61"><svg viewBox="0 0 500 1000" style="width:0.5em;height:1em;vertical-align:baseline;overflow:visible"><path d="M372 1000 V292 H268 L52 372 V466 L232 404 V1000 Z" fill="currentColor"/></svg> 552,2</span></div>
<div style="position:absolute;left:190.90px;width:400px;text-align:center;top:605.90px;font-size:13.5px;line-height:13.5px;font-weight:400;color:#363636;white-space:nowrap;transform:scaleX(1.0783);transform-origin:50% 0;"><span id="t62">млн шт.</span></div>
<div style="position:absolute;left:286.50px;width:400px;text-align:center;top:742.00px;font-size:23.5px;line-height:23.5px;font-weight:700;color:#3b3b3b;white-space:nowrap;transform:scaleX(0.9733);transform-origin:50% 0;-webkit-text-stroke:0.12px #ffffff;"><span id="t63">2,8<span style="display:inline-block;width:12.5px;margin-left:1.5px;font-size:17px;font-weight:400;color:#444444;-webkit-text-stroke:0;transform:scaleX(0.84);transform-origin:0 0">%</span></span></div>
<div style="position:absolute;left:287.40px;width:400px;text-align:center;top:581.30px;font-size:19px;line-height:19px;font-weight:700;color:#b7935d;white-space:nowrap;transform:scaleX(1.0543);transform-origin:50% 0;"><span id="t64">4<svg viewBox="0 0 500 1000" style="width:0.5em;height:1em;vertical-align:baseline;overflow:visible"><path d="M372 1000 V292 H268 L52 372 V466 L232 404 V1000 Z" fill="currentColor"/></svg>5,6</span></div>
<div style="position:absolute;left:287.90px;width:400px;text-align:center;top:605.90px;font-size:13.5px;line-height:13.5px;font-weight:400;color:#363636;white-space:nowrap;transform:scaleX(1.0783);transform-origin:50% 0;"><span id="t65">млн шт.</span></div>
<div style="position:absolute;left:651.10px;width:400px;text-align:center;top:767.75px;font-size:23.5px;line-height:23.5px;font-weight:700;color:#3b3b3b;white-space:nowrap;transform:scaleX(0.9605);transform-origin:50% 0;-webkit-text-stroke:0.12px #ffffff;"><span id="t66"><svg viewBox="0 0 500 1000" style="width:0.5em;height:1em;vertical-align:baseline;overflow:visible"><path d="M372 1000 V292 H268 L52 372 V466 L232 404 V1000 Z" fill="currentColor"/></svg>3,5<span style="display:inline-block;width:12.5px;margin-left:1.5px;font-size:17px;font-weight:400;color:#444444;-webkit-text-stroke:0;transform:scaleX(0.84);transform-origin:0 0">%</span></span></div>
<div style="position:absolute;left:651.20px;width:400px;text-align:center;top:581.60px;font-size:19px;line-height:19px;font-weight:700;color:#557891;white-space:nowrap;transform:scaleX(1.1337);transform-origin:50% 0;"><span id="t67">349,<svg viewBox="0 0 500 1000" style="width:0.5em;height:1em;vertical-align:baseline;overflow:visible"><path d="M372 1000 V292 H268 L52 372 V466 L232 404 V1000 Z" fill="currentColor"/></svg></span></div>
<div style="position:absolute;left:650.70px;width:400px;text-align:center;top:606.21px;font-size:13.5px;line-height:13.5px;font-weight:400;color:#363636;white-space:nowrap;transform:scaleX(1.0652);transform-origin:50% 0;"><span id="t68">млн шт.</span></div>
<div style="position:absolute;left:752.60px;width:400px;text-align:center;top:736.30px;font-size:23.5px;line-height:23.5px;font-weight:700;color:#3b3b3b;white-space:nowrap;transform:scaleX(0.9500);transform-origin:50% 0;-webkit-text-stroke:0.12px #ffffff;"><span id="t69">5,3<span style="display:inline-block;width:12.5px;margin-left:1.5px;font-size:17px;font-weight:400;color:#444444;-webkit-text-stroke:0;transform:scaleX(0.84);transform-origin:0 0">%</span></span></div>
<div style="position:absolute;left:752.40px;width:400px;text-align:center;top:581.60px;font-size:19px;line-height:19px;font-weight:700;color:#557891;white-space:nowrap;transform:scaleX(1.0700);transform-origin:50% 0;"><span id="t70"><svg viewBox="0 0 500 1000" style="width:0.5em;height:1em;vertical-align:baseline;overflow:visible"><path d="M372 1000 V292 H268 L52 372 V466 L232 404 V1000 Z" fill="currentColor"/></svg>38,7</span></div>
<div style="position:absolute;left:752.90px;width:400px;text-align:center;top:606.21px;font-size:13.5px;line-height:13.5px;font-weight:400;color:#363636;white-space:nowrap;transform:scaleX(1.0652);transform-origin:50% 0;"><span id="t71">млн шт.</span></div>
<div style="position:absolute;left:853.20px;width:400px;text-align:center;top:731.60px;font-size:23.5px;line-height:23.5px;font-weight:700;color:#3b3b3b;white-space:nowrap;transform:scaleX(0.9500);transform-origin:50% 0;-webkit-text-stroke:0.12px #ffffff;"><span id="t72">4,2<span style="display:inline-block;width:12.5px;margin-left:1.5px;font-size:17px;font-weight:400;color:#444444;-webkit-text-stroke:0;transform:scaleX(0.84);transform-origin:0 0">%</span></span></div>
<div style="position:absolute;left:852.00px;width:400px;text-align:center;top:581.60px;font-size:19px;line-height:19px;font-weight:700;color:#557891;white-space:nowrap;transform:scaleX(1.1381);transform-origin:50% 0;"><span id="t73"><svg viewBox="0 0 500 1000" style="width:0.5em;height:1em;vertical-align:baseline;overflow:visible"><path d="M372 1000 V292 H268 L52 372 V466 L232 404 V1000 Z" fill="currentColor"/></svg>09,<svg viewBox="0 0 500 1000" style="width:0.5em;height:1em;vertical-align:baseline;overflow:visible"><path d="M372 1000 V292 H268 L52 372 V466 L232 404 V1000 Z" fill="currentColor"/></svg></span></div>
<div style="position:absolute;left:851.50px;width:400px;text-align:center;top:606.21px;font-size:13.5px;line-height:13.5px;font-weight:400;color:#363636;white-space:nowrap;transform:scaleX(1.0652);transform-origin:50% 0;"><span id="t74">млн шт.</span></div>
<div style="position:absolute;left:953.90px;width:400px;text-align:center;top:724.75px;font-size:23.5px;line-height:23.5px;font-weight:700;color:#3b3b3b;white-space:nowrap;transform:scaleX(0.9315);transform-origin:50% 0;-webkit-text-stroke:0.12px #ffffff;"><span id="t75">2,6<span style="display:inline-block;width:12.5px;margin-left:1.5px;font-size:17px;font-weight:400;color:#444444;-webkit-text-stroke:0;transform:scaleX(0.84);transform-origin:0 0">%</span></span></div>
<div style="position:absolute;left:955.00px;width:400px;text-align:center;top:584.60px;font-size:19px;line-height:19px;font-weight:700;color:#557891;white-space:nowrap;transform:scaleX(1.0556);transform-origin:50% 0;"><span id="t76">66,6</span></div>
<div style="position:absolute;left:955.50px;width:400px;text-align:center;top:606.21px;font-size:13.5px;line-height:13.5px;font-weight:400;color:#363636;white-space:nowrap;transform:scaleX(1.0652);transform-origin:50% 0;"><span id="t77">млн шт.</span></div>
<div style="position:absolute;left:475.40px;width:400px;text-align:center;top:543.71px;font-size:31px;line-height:31px;font-weight:700;color:#137a4a;white-space:nowrap;transform:scaleX(1.0977);transform-origin:50% 0;"><span id="t78"><svg viewBox="0 0 500 1000" style="width:0.5em;height:1em;vertical-align:baseline;overflow:visible"><path d="M372 1000 V292 H268 L52 372 V466 L232 404 V1000 Z" fill="currentColor"/></svg>9<svg viewBox="0 0 500 1000" style="width:0.5em;height:1em;vertical-align:baseline;overflow:visible"><path d="M372 1000 V292 H268 L52 372 V466 L232 404 V1000 Z" fill="currentColor"/></svg></span></div>
<div style="position:absolute;left:474.10px;width:400px;text-align:center;top:579.01px;font-size:14px;line-height:14px;font-weight:400;color:#363636;white-space:nowrap;transform:scaleX(1.0105);transform-origin:50% 0;"><span id="t79">монет</span></div>
<div style="position:absolute;left:473.00px;width:400px;text-align:center;top:623.61px;font-size:15.5px;line-height:15.5px;font-weight:400;color:#4e4e4e;white-space:nowrap;transform:scaleX(1.1000);transform-origin:50% 0;-webkit-text-stroke:0.3px #f7f2eb;"><span id="t80">Середня кількість</span></div>
<div style="position:absolute;left:472.50px;width:400px;text-align:center;top:643.91px;font-size:15.5px;line-height:15.5px;font-weight:400;color:#4e4e4e;white-space:nowrap;transform:scaleX(1.1114);transform-origin:50% 0;-webkit-text-stroke:0.3px #f7f2eb;"><span id="t81">банкнот і розмінних</span></div>
<div style="position:absolute;left:473.50px;width:400px;text-align:center;top:663.61px;font-size:15.5px;line-height:15.5px;font-weight:400;color:#4e4e4e;white-space:nowrap;transform:scaleX(1.1172);transform-origin:50% 0;-webkit-text-stroke:0.3px #f7f2eb;"><span id="t82">та обігових монет,</span></div>
<div style="position:absolute;left:473.00px;width:400px;text-align:center;top:684.20px;font-size:15.5px;line-height:15.5px;font-weight:400;color:#4e4e4e;white-space:nowrap;transform:scaleX(1.1104);transform-origin:50% 0;-webkit-text-stroke:0.3px #f7f2eb;"><span id="t83">що є засобом платежу,</span></div>
<div style="position:absolute;left:473.00px;width:400px;text-align:center;top:704.00px;font-size:15.5px;line-height:15.5px;font-weight:400;color:#4e4e4e;white-space:nowrap;transform:scaleX(1.1037);transform-origin:50% 0;-webkit-text-stroke:0.3px #f7f2eb;"><span id="t84">на одного українця</span></div>
<div style="position:absolute;left:474.20px;width:400px;text-align:center;top:748.10px;font-size:31px;line-height:31px;font-weight:700;color:#137a4a;white-space:nowrap;transform:scaleX(0.9788);transform-origin:50% 0;"><span id="t85">63</span></div>
<div style="position:absolute;left:475.50px;width:400px;text-align:center;top:779.01px;font-size:14px;line-height:14px;font-weight:400;color:#363636;white-space:nowrap;transform:scaleX(1.0259);transform-origin:50% 0;"><span id="t86">банкноти</span></div>
<div style="position:absolute;left:34.80px;top:862.60px;font-size:14px;line-height:14px;font-weight:700;color:#ffffff;white-space:nowrap;transform:scaleX(0.7689);transform-origin:0 0;-webkit-text-stroke:0.25px #0d7b47;letter-spacing:0.6px;"><span id="t87">Національний</span></div>
<div style="position:absolute;left:35.80px;top:876.90px;font-size:14px;line-height:14px;font-weight:700;color:#ffffff;white-space:nowrap;transform:scaleX(0.8426);transform-origin:0 0;-webkit-text-stroke:0.25px #0d7b47;letter-spacing:0.6px;"><span id="t88">банк України</span></div>
<div style="position:absolute;left:176.00px;top:836.11px;font-size:15px;line-height:15px;font-weight:400;color:#393939;white-space:nowrap;transform:scaleX(1.0392);transform-origin:0 0;"><span id="t89">Монети номіналами <svg viewBox="0 0 556 1000" style="width:0.556em;height:1em;vertical-align:baseline;overflow:visible"><path d="M372 1000 V290 H352 L90 386 V452 L262 392 V1000 Z" fill="currentColor"/></svg>, 2, 5 та 25 копійок враховуються у структурі готівкового обігу на період дії правового режиму воєнного стану в Україні</span></div>
<div style="position:absolute;left:177.00px;top:854.51px;font-size:15px;line-height:15px;font-weight:400;color:#393939;white-space:nowrap;transform:scaleX(1.0396);transform-origin:0 0;"><span id="t90">та протягом 90 днів із дня його припинення чи скасування включно, поки громадяни можуть їх обміняти на&nbsp; монети та&nbsp; банкноти інших</span></div>
<div style="position:absolute;left:176.00px;top:870.91px;font-size:15px;line-height:15px;font-weight:400;color:#393939;white-space:nowrap;transform:scaleX(1.0272);transform-origin:0 0;"><span id="t91">номіналів, що перебувають в обігу</span></div>
</body>
</html>
